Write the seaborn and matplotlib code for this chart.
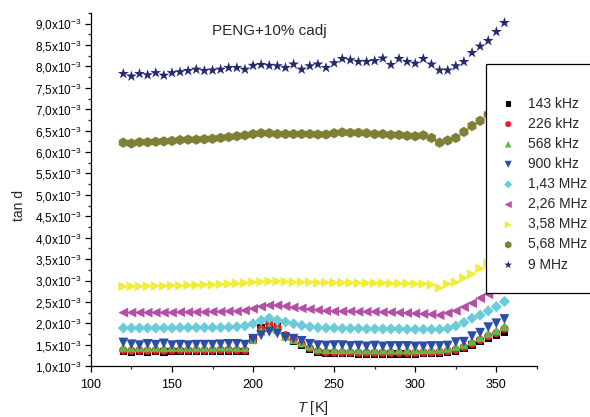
import numpy as np
import pandas as pd
import matplotlib
matplotlib.use("Agg")
import matplotlib.pyplot as plt
import seaborn as sns
from matplotlib.ticker import MultipleLocator, FuncFormatter

# temperature axis [K]
temperature = list(range(120, 360, 5))

# tan d values, in units of 1e-3
tan_143k = [1.34, 1.33, 1.34, 1.33, 1.34, 1.33, 1.34, 1.34, 1.34, 1.34, 1.34, 1.34, 1.35, 1.35, 1.34, 1.34,
            1.63, 1.89, 1.95, 1.92, 1.70, 1.58, 1.48, 1.39, 1.32,
            1.29, 1.29, 1.29, 1.29, 1.28, 1.28, 1.28, 1.28, 1.28, 1.28, 1.28, 1.28, 1.29, 1.29, 1.30, 1.32,
            1.35, 1.41, 1.49, 1.57, 1.66, 1.73, 1.80]
tan_226k = [1.37, 1.36, 1.37, 1.36, 1.37, 1.36, 1.37, 1.37, 1.37, 1.37, 1.37, 1.37, 1.38, 1.38, 1.37, 1.37,
            1.62, 1.86, 1.99, 1.91, 1.72, 1.62, 1.52, 1.42, 1.35,
            1.32, 1.32, 1.32, 1.32, 1.31, 1.31, 1.31, 1.31, 1.31, 1.31, 1.31, 1.31, 1.32, 1.32, 1.33, 1.35,
            1.38, 1.44, 1.52, 1.61, 1.70, 1.77, 1.87]
tan_568k = [1.44, 1.43, 1.44, 1.43, 1.44, 1.43, 1.44, 1.44, 1.44, 1.44, 1.44, 1.44, 1.45, 1.45, 1.44, 1.44,
            1.62, 1.82, 1.90, 1.86, 1.70, 1.62, 1.55, 1.47, 1.41,
            1.39, 1.39, 1.39, 1.39, 1.38, 1.38, 1.38, 1.38, 1.38, 1.38, 1.38, 1.38, 1.39, 1.39, 1.40, 1.42,
            1.46, 1.51, 1.59, 1.67, 1.76, 1.83, 1.93]
tan_900k = [1.55, 1.51, 1.49, 1.52, 1.50, 1.53, 1.49, 1.50, 1.49, 1.50, 1.50, 1.50, 1.51, 1.52, 1.52, 1.50,
            1.64, 1.72, 1.80, 1.76, 1.67, 1.64, 1.59, 1.52, 1.49,
            1.48, 1.49, 1.49, 1.47, 1.48, 1.46, 1.48, 1.46, 1.47, 1.47, 1.47, 1.46, 1.46, 1.47, 1.47, 1.48,
            1.56, 1.57, 1.70, 1.78, 1.91, 2.00, 2.10]
tan_143M = [1.89, 1.89, 1.89, 1.89, 1.89, 1.89, 1.89, 1.90, 1.90, 1.90, 1.90, 1.90, 1.90, 1.91, 1.92,
            1.94, 1.99, 2.07, 2.12, 2.07, 2.03, 1.99, 1.95, 1.92, 1.90,
            1.89, 1.89, 1.88, 1.88, 1.88, 1.87, 1.87, 1.87, 1.87, 1.87, 1.86, 1.86, 1.86, 1.86, 1.86, 1.88,
            1.94, 2.02, 2.12, 2.19, 2.29, 2.39, 2.51]
tan_226M = [2.25, 2.25, 2.25, 2.25, 2.25, 2.25, 2.25, 2.26, 2.26, 2.26, 2.26, 2.27, 2.27, 2.28, 2.28,
            2.30, 2.34, 2.39, 2.42, 2.42, 2.40, 2.37, 2.35, 2.33, 2.31,
            2.29, 2.28, 2.28, 2.28, 2.27, 2.27, 2.27, 2.26, 2.26, 2.25, 2.24, 2.23, 2.22, 2.21, 2.19, 2.24,
            2.29, 2.38, 2.47, 2.59, 2.68, 2.78, 2.88]
tan_358M = [2.86, 2.86, 2.86, 2.87, 2.87, 2.87, 2.88, 2.88, 2.89, 2.89, 2.90, 2.90, 2.91, 2.92, 2.93, 2.94,
            2.96, 2.97, 2.98, 2.98, 2.97, 2.96, 2.96, 2.96, 2.95, 2.95, 2.95, 2.95, 2.95, 2.94, 2.94, 2.94,
            2.94, 2.93, 2.93, 2.93, 2.92, 2.92, 2.90,
            2.83, 2.92, 2.96, 3.06, 3.15, 3.28, 3.40, 3.55, 3.70]
tan_568M = [6.22, 6.20, 6.23, 6.23, 6.24, 6.25, 6.26, 6.28, 6.29, 6.29, 6.30, 6.31, 6.33, 6.35, 6.37, 6.39,
            6.42, 6.44, 6.44, 6.42, 6.42, 6.42, 6.42, 6.42, 6.41, 6.41, 6.44, 6.46, 6.45, 6.45, 6.44, 6.42,
            6.42, 6.40, 6.40, 6.38, 6.37, 6.39, 6.33, 6.22, 6.27, 6.33, 6.47, 6.61, 6.73, 6.88, 7.05, 7.25]
tan_9M = [7.83, 7.77, 7.83, 7.80, 7.85, 7.79, 7.85, 7.87, 7.90, 7.93, 7.90, 7.91, 7.93, 7.97, 7.97, 7.93,
          8.02, 8.04, 8.02, 8.01, 7.97, 8.05, 7.93, 8.01, 8.05, 7.97, 8.08, 8.18, 8.15, 8.11, 8.11, 8.13,
          8.19, 8.04, 8.18, 8.11, 8.07, 8.18, 8.05, 7.91, 7.91, 8.01, 8.11, 8.32, 8.47, 8.60, 8.81, 9.02]

freq_labels = ["143 kHz", "226 kHz", "568 kHz", "900 kHz", "1,43 MHz", "2,26 MHz",
               "3,58 MHz", "5,68 MHz", "9 MHz"]
series = [tan_143k, tan_226k, tan_568k, tan_900k, tan_143M, tan_226M, tan_358M, tan_568M, tan_9M]
colors = ["#000000", "#ee1c24", "#5eb947", "#2a4ea6", "#6ccbd9", "#b44fa6",
          "#f0ee3a", "#7f7f35", "#272a6e"]
markers = ["s", "o", "^", "v", "D", "<", ">", "h", "*"]
sizes = [28, 36, 44, 50, 32, 50, 50, 56, 68]

sns.set_style("ticks")
plt.rcParams["font.family"] = ["Liberation Sans", "DejaVu Sans"]
plt.rcParams["mathtext.fontset"] = "custom"
plt.rcParams["mathtext.rm"] = "Liberation Sans"
plt.rcParams["mathtext.it"] = "Liberation Sans:italic"

fig = plt.figure(figsize=(5.9, 4.17), dpi=100)
ax = fig.add_axes([0.154, 0.122, 0.756, 0.847])

for lab, vals, col, mk, sz in zip(freq_labels, series, colors, markers, sizes):
    df = pd.DataFrame({"T": temperature, "tan_d": vals})
    sns.scatterplot(data=df, x="T", y="tan_d", ax=ax, color=col, marker=mk, s=sz,
                    edgecolor="none", linewidth=0, label=lab)

ax.set_xlim(100, 375)
ax.set_ylim(1.0, 9.25)
ax.xaxis.set_major_locator(MultipleLocator(50))
ax.xaxis.set_minor_locator(MultipleLocator(25))
ax.yaxis.set_major_locator(MultipleLocator(0.5))
ax.yaxis.set_minor_locator(MultipleLocator(0.25))
ax.yaxis.set_major_formatter(FuncFormatter(
    lambda v, pos: f"{v:.1f}".replace(".", ",") + r"x10$^{-3}$"))

ax.tick_params(axis="both", which="major", direction="out", length=4.5, width=0.9,
               labelsize=8.5, colors="black", pad=2)
ax.tick_params(axis="x", which="major", labelsize=9, pad=5)
ax.tick_params(axis="both", which="minor", direction="out", length=2.5, width=0.9)
sns.despine(ax=ax)
for side in ["left", "bottom"]:
    ax.spines[side].set_linewidth(0.9)
    ax.spines[side].set_color("black")

ax.set_xlabel("")
ax.set_ylabel("")
fig.text(19 / 590, 1 - 205 / 417, "tan d", rotation=90, ha="center", va="center", fontsize=10)
fig.text(313 / 590, 1 - 408 / 417, r"$T$ [K]", ha="center", va="center", fontsize=10.5)
ax.text(174.5, 8.74, "PENG+10% cadj", fontsize=11, ha="left", va="baseline")

leg = ax.legend(loc="upper left", bbox_to_anchor=(486 / 590, 1 - 64 / 417),
                bbox_transform=fig.transFigure, borderaxespad=0, frameon=True,
                fancybox=False, edgecolor="black", fontsize=10, title=" ",
                title_fontsize=4, borderpad=1.55, handlelength=0.1, handletextpad=1.35,
                labelspacing=0.44, markerscale=0.72)
leg.get_frame().set_linewidth(0.9)
leg.get_frame().set_alpha(1)
leg.set_zorder(10)

fig.savefig("out.png", dpi=100)
